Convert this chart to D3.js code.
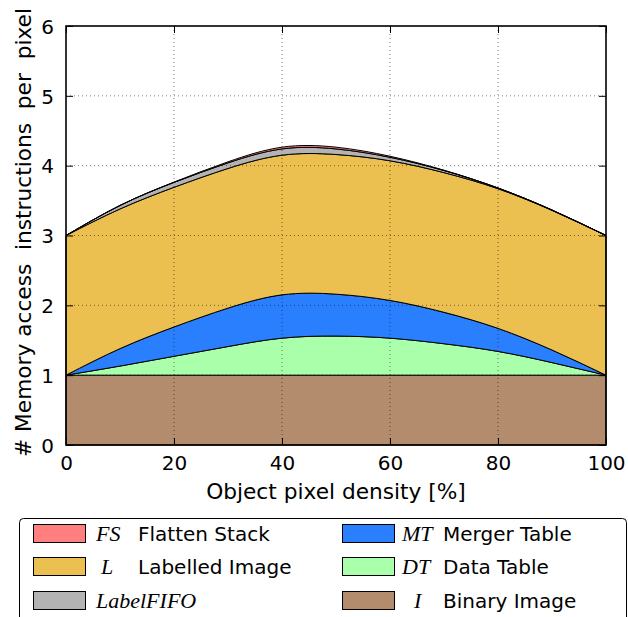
<!DOCTYPE html>
<html>
<head>
<meta charset="utf-8">
<script src="https://cdn.jsdelivr.net/npm/d3@7"></script>
<style>
  html, body { margin: 0; padding: 0; background: #fff; }
  svg { display: block; }
  text { font-family: "DejaVu Sans", sans-serif; fill: #000; }
</style>
</head>
<body>
<svg id="chart" width="628" height="617"></svg>
<script>
// ---- data ----
const density = [0, 10, 20, 30, 40, 50, 60, 70, 80, 90, 100];
const binaryImage   = [1, 1, 1, 1, 1, 1, 1, 1, 1, 1, 1];
const dataTable     = [0, 0.13, 0.27, 0.41, 0.53, 0.56, 0.53, 0.45, 0.34, 0.18, 0];
const mergerTable   = [0, 0.25, 0.42, 0.55, 0.62, 0.60, 0.54, 0.45, 0.33, 0.18, 0];
const labelledImage = [2, 2, 2, 2, 2, 2, 2, 2, 2, 2, 2];
const labelFIFO     = [0, 0.05, 0.07, 0.08, 0.09, 0.08, 0.05, 0.03, 0.01, 0.005, 0];
const flattenStack  = [0, 0, 0.005, 0.015, 0.025, 0.025, 0.015, 0.005, 0, 0, 0];
const xTicks = [0, 20, 40, 60, 80, 100];
const yTicks = [0, 1, 2, 3, 4, 5, 6];
const seriesKeys = ["I", "DT", "MT", "L", "LabelFIFO", "FS"];
const seriesColors = ["#b38b6d", "#aaffaa", "#2a7fff", "#ebbf50", "#b3b3b3", "#ff7f7f"];

const rows = density.map((d, i) => ({
  x: d, I: binaryImage[i], DT: dataTable[i], MT: mergerTable[i],
  L: labelledImage[i], LabelFIFO: labelFIFO[i], FS: flattenStack[i]
}));

const svg = d3.select("#chart");
const L = 66, R = 606, T = 26, B = 445;
const x = d3.scaleLinear().domain([0, 100]).range([L, R]);
const y = d3.scaleLinear().domain([0, 6]).range([B, T]);

const stacked = d3.stack().keys(seriesKeys)(rows);
const area = d3.area()
  .x(d => x(d.data.x)).y0(d => y(d[0])).y1(d => y(d[1]))
  .curve(d3.curveNatural);

svg.append("g").selectAll("path").data(stacked).join("path")
  .attr("d", area)
  .attr("fill", (d, i) => seriesColors[i])
  .attr("stroke", "#000")
  .attr("stroke-width", 1)
  .attr("stroke-linejoin", "round");

// grid
const grid = svg.append("g").attr("stroke", "#000").attr("stroke-opacity", 0.5)
  .attr("stroke-width", 1).attr("stroke-dasharray", "1,3");
grid.selectAll(".gx").data(xTicks.slice(1, -1)).join("line")
  .attr("x1", d => x(d)).attr("x2", d => x(d)).attr("y1", T).attr("y2", B);
grid.selectAll(".gy").data(yTicks.slice(1, -1)).join("line")
  .attr("y1", d => y(d)).attr("y2", d => y(d)).attr("x1", L).attr("x2", R);

// axes (ticks inside on all sides)
const tickLen = 7;
const fs = 20;
const labelFs = 21.7;
const fmt = d3.format("d");
const axB = svg.append("g").attr("transform", `translate(0,${B})`)
  .call(d3.axisBottom(x).tickValues(xTicks).tickFormat(fmt).tickSizeInner(-tickLen).tickSizeOuter(0).tickPadding(tickLen + 4));
const axT = svg.append("g").attr("transform", `translate(0,${T})`)
  .call(d3.axisTop(x).tickValues(xTicks).tickSizeInner(-tickLen).tickSizeOuter(0).tickFormat(""));
const axLeft = svg.append("g").attr("transform", `translate(${L},0)`)
  .call(d3.axisLeft(y).tickValues(yTicks).tickFormat(fmt).tickSizeInner(-tickLen).tickSizeOuter(0).tickPadding(tickLen + 5));
const axRight = svg.append("g").attr("transform", `translate(${R},0)`)
  .call(d3.axisRight(y).tickValues(yTicks).tickSizeInner(-tickLen).tickSizeOuter(0).tickFormat(""));
[axB, axT, axLeft, axRight].forEach(a => {
  a.select(".domain").remove();
  a.selectAll("line").attr("stroke", "#000").attr("stroke-width", 1);
  a.selectAll("text").attr("font-size", fs).attr("font-family", "DejaVu Sans").attr("fill", "#000");
});
axB.selectAll("text").attr("dy", "0.71em");
axLeft.selectAll("text").attr("dy", "0.36em");

// frame
svg.append("rect").attr("x", L).attr("y", T).attr("width", R - L).attr("height", B - T)
  .attr("fill", "none").attr("stroke", "#000").attr("stroke-width", 1.6);

// axis labels
svg.append("text").attr("x", (L + R) / 2).attr("y", 499).attr("text-anchor", "middle")
  .attr("font-size", labelFs).text("Object pixel density [%]");
svg.append("text").attr("transform", `translate(31,${(T + B) / 2 - 3}) rotate(-90)`)
  .attr("text-anchor", "middle").attr("font-size", labelFs).attr("xml:space", "preserve")
  .style("white-space", "pre")
  .text("# Memory access  instructions  per  pixel");

// legend
const leg = svg.append("g");
leg.append("rect").attr("x", 19.5).attr("y", 518.5).attr("width", 607).attr("height", 130)
  .attr("rx", 4).attr("fill", "#fff").attr("stroke", "#000").attr("stroke-width", 1);
const legendItems = [
  {key: "FS", col: 0, row: 0, math: "FS", mathX: 96, text: "Flatten Stack", textX: 138},
  {key: "L", col: 0, row: 1, math: "L", mathX: 101, text: "Labelled Image", textX: 138},
  {key: "LabelFIFO", col: 0, row: 2, math: "LabelFIFO", mathX: 96, text: "", textX: 0},
  {key: "MT", col: 1, row: 0, math: "MT", mathX: 402, text: "Merger Table", textX: 443},
  {key: "DT", col: 1, row: 1, math: "DT", mathX: 402, text: "Data Table", textX: 443},
  {key: "I", col: 1, row: 2, math: "I", mathX: 414, text: "Binary Image", textX: 443}
];
const swX = [33, 342], rowY = [534, 567, 601];
legendItems.forEach(it => {
  const ci = seriesKeys.indexOf(it.key);
  const cy = rowY[it.row];
  leg.append("rect").attr("x", swX[it.col] + 0.5).attr("y", cy - 9.5).attr("width", 52).attr("height", 18)
    .attr("fill", seriesColors[ci]).attr("stroke", "#000").attr("stroke-width", 1);
  leg.append("text").attr("x", it.mathX).attr("y", cy + 7)
    .style("font-family", "'Liberation Serif', serif")
    .attr("font-style", "italic").attr("font-size", 22).text(it.math);
  if (it.text) leg.append("text").attr("x", it.textX).attr("y", cy + 7)
    .attr("font-size", fs).text(it.text);
});
</script>
</body>
</html>
